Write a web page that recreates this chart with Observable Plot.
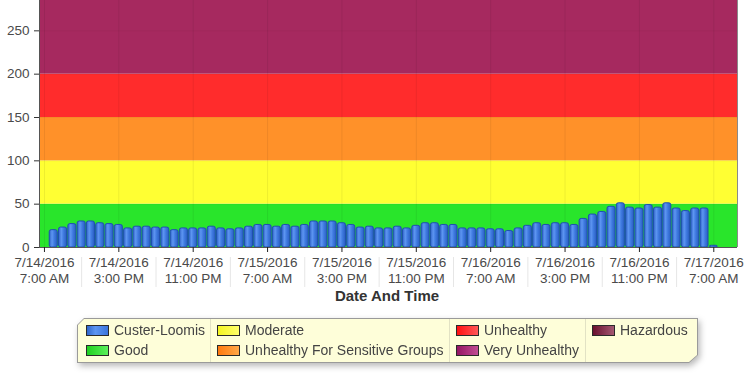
<!DOCTYPE html>
<html>
<head>
<meta charset="utf-8">
<script src="https://cdn.jsdelivr.net/npm/d3@7"></script>
<script src="https://cdn.jsdelivr.net/npm/@observablehq/plot@0.6"></script>
<style>
  html, body { margin: 0; padding: 0; background: #fff; }
  #wrap { position: relative; width: 750px; height: 378px; overflow: hidden; font-family: "Liberation Sans", Arial, sans-serif; }
  #chart svg { display: block; }
  #legendShadow { position: absolute; left: 77px; top: 318px; width: 621px; height: 45px; filter: drop-shadow(2px 3px 3px rgba(0,0,0,0.28)); }
  #legendOuter { position: absolute; inset: 0; background: #9a9a9a;
    clip-path: polygon(7px 0, 100% 0, 100% calc(100% - 8px), calc(100% - 9px) 100%, 0 100%, 0 7px); }
  #legendInner { position: absolute; left: 1px; top: 1px; right: 1px; bottom: 1px; background: #fefed9;
    clip-path: polygon(6px 0, 100% 0, 100% calc(100% - 7px), calc(100% - 8px) 100%, 0 100%, 0 6px); }
  .sep { position: absolute; top: 0; bottom: 0; width: 1px; background: #e2e2c4; }
  .item { position: absolute; height: 20px; display: flex; align-items: center; white-space: nowrap; font-size: 14px; color: #444; }
  .sw { width: 21px; height: 9px; border: 1px solid #2a2a2a; margin-right: 5px; flex: none; }
</style>
</head>
<body>
<div id="wrap">
  <div id="chart"></div>
  <div id="legendShadow"><div id="legendOuter"><div id="legendInner"></div></div></div>
</div>
<script>
// ---- data ----
const seriesName = "Custer-Loomis";
const firstHour = "2016-07-14T08:00:00Z";   // hourly readings start here
const aqiValues = [
  20, 23, 27, 30, 30, 28, 27, 26, 22, 24, 24, 23,
  23, 20, 22, 22, 22, 24, 22, 21, 22, 24, 26, 26,
  24, 26, 24, 26, 30, 30, 30, 28, 26, 23, 24, 22, 22,
  24, 22, 25, 28, 28, 26, 26, 22, 22, 22, 21, 21,
  19, 22, 25, 28, 26, 28, 28, 26, 33, 38, 41, 47,
  51, 46, 45, 49, 46, 51, 45, 42, 45, 45, 2
];
const bandLabels = ["Good", "Moderate", "Unhealthy For Sensitive Groups", "Unhealthy", "Very Unhealthy", "Hazardous"];
const bandLow    = [0, 50, 100, 150, 200, 300];
const bandHigh   = [50, 100, 150, 200, 300, 500];
const bandColors = ["#29e52b", "#ffff33", "#ff9129", "#ff2c2c", "#a6295f", "#7e1e3e"];
const tickTimes = [
  "2016-07-14T07:00:00Z", "2016-07-14T15:00:00Z", "2016-07-14T23:00:00Z",
  "2016-07-15T07:00:00Z", "2016-07-15T15:00:00Z", "2016-07-15T23:00:00Z",
  "2016-07-16T07:00:00Z", "2016-07-16T15:00:00Z", "2016-07-16T23:00:00Z",
  "2016-07-17T07:00:00Z"
];
const separatorTimes = [
  "2016-07-14T11:00:00Z", "2016-07-14T19:00:00Z", "2016-07-15T03:00:00Z",
  "2016-07-15T11:00:00Z", "2016-07-15T19:00:00Z", "2016-07-16T03:00:00Z",
  "2016-07-16T11:00:00Z", "2016-07-16T19:00:00Z", "2016-07-17T03:00:00Z"
];
const yTicks = [0, 50, 100, 150, 200, 250];
const xDomain = ["2016-07-14T06:28:00Z", "2016-07-17T09:33:00Z"];
const yDomain = [0, 285];
const xTitle = "Date And Time";
const legendLabels = ["Custer-Loomis", "Good", "Moderate", "Unhealthy For Sensitive Groups", "Unhealthy", "Very Unhealthy", "Hazardous"];
const legendFills = [
  "linear-gradient(90deg,#2f66cc,#5c95f2 40%,#3a74dc)",
  "linear-gradient(90deg,#20d020,#5cf05c)",
  "linear-gradient(90deg,#f4f420,#ffff6a)",
  "linear-gradient(90deg,#ff7a10,#ffa848)",
  "linear-gradient(90deg,#ff1010,#ff5858)",
  "linear-gradient(90deg,#951562,#c24d94)",
  "linear-gradient(90deg,#6a1030,#a45872)"
];

// ---- build ----
const t0 = new Date(firstHour);
const readings = aqiValues.map((v, i) => ({time: d3.utcHour.offset(t0, i), value: v}));
const bands = bandLabels.map((b, i) => ({label: b, lo: bandLow[i], hi: bandHigh[i], color: bandColors[i]}));
const xd = xDomain.map(s => new Date(s));
const ticks = tickTimes.map(s => new Date(s));
const seps = separatorTimes.map(s => new Date(s));
const fDate = d3.utcFormat("%-m/%-d/%Y");
const fTime = d3.utcFormat("%-I:%M %p");
const halfBar = 26 * 60000;

const chart = Plot.plot({
  width: 750, height: 310,
  marginTop: 0, marginLeft: 39, marginRight: 13, marginBottom: 63,
  style: {fontFamily: "'Liberation Sans', Arial, sans-serif", fontSize: "13.5px", color: "#4a4a4a", background: "transparent"},
  x: {type: "utc", domain: xd},
  y: {domain: yDomain},
  color: {type: "identity"},
  marks: [
    Plot.rect(bands, {x1: () => xd[0], x2: () => xd[1], y1: "lo", y2: "hi", fill: "color", clip: true}),
    Plot.gridX(ticks, {stroke: "#000", strokeOpacity: 0.07}),
    Plot.gridY(yTicks, {stroke: "#000", strokeOpacity: 0.04}),
    Plot.rectY(readings, {
      x1: d => new Date(+d.time - halfBar), x2: d => new Date(+d.time + halfBar),
      y: "value", fill: "url(#barGrad)", stroke: "#1f4fb0", strokeWidth: 1, rx: 2
    }),
    Plot.ruleY([0], {stroke: "#555"}),
    Plot.ruleX([xd[0]], {stroke: "#555"}),
    Plot.ruleX([xd[1]], {stroke: "#8a8a8a"}),
    Plot.axisX(seps, {tickSize: 30, dy: 10, tickFormat: () => "", stroke: "#e6e6e6", label: null}),
    Plot.axisX(ticks, {tickSize: 5, tickPadding: 3, stroke: "#222", lineHeight: 1.17,
      tickFormat: d => fDate(d) + "\n" + fTime(d), label: null}),
    Plot.axisY(yTicks, {tickSize: 5, tickPadding: 5, stroke: "#333", label: null}),
    Plot.text([xTitle], {frameAnchor: "bottom", lineAnchor: "middle", dy: 49, dx: -1.5, fontWeight: "bold", fontSize: 15, fill: "#333"})
  ]
});
// bar gradient
const svgNS = "http://www.w3.org/2000/svg";
const defs = document.createElementNS(svgNS, "defs");
const grad = document.createElementNS(svgNS, "linearGradient");
grad.setAttribute("id", "barGrad");
grad.setAttribute("x1", "0"); grad.setAttribute("x2", "1"); grad.setAttribute("y1", "0"); grad.setAttribute("y2", "0");
[["0%", "#2e62c6"], ["35%", "#5d95f1"], ["65%", "#3d78de"], ["100%", "#2b5ec2"]].forEach(([o, c]) => {
  const s = document.createElementNS(svgNS, "stop");
  s.setAttribute("offset", o); s.setAttribute("stop-color", c); grad.appendChild(s);
});
defs.appendChild(grad);
chart.insertBefore(defs, chart.firstChild);
document.getElementById("chart").appendChild(chart);

// legend
const inner = document.getElementById("legendInner");
const colX = [8, 139, 378, 514];
const sepX = [132, 371, 507];
sepX.forEach(x => { const s = document.createElement("div"); s.className = "sep"; s.style.left = x + "px"; inner.appendChild(s); });
legendLabels.forEach((lab, i) => {
  const col = Math.floor(i / 2), row = i % 2;
  const it = document.createElement("div");
  it.className = "item";
  it.style.left = colX[col] + "px";
  it.style.top = (1 + row * 20) + "px";
  const sw = document.createElement("span");
  sw.className = "sw"; sw.style.background = legendFills[i];
  const tx = document.createElement("span"); tx.textContent = lab;
  it.appendChild(sw); it.appendChild(tx);
  inner.appendChild(it);
});
</script>
</body>
</html>
